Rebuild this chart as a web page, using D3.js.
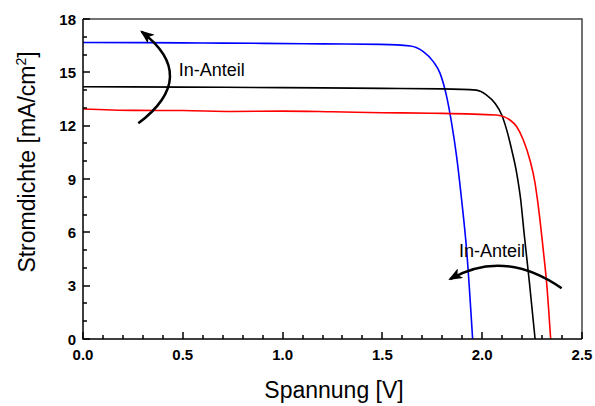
<!DOCTYPE html>
<html>
<head>
<meta charset="utf-8">
<script src="https://cdn.jsdelivr.net/npm/d3@7"></script>
<style>
  body { margin: 0; background: #fff; }
  text { font-family: "Liberation Sans", Arial, sans-serif; }
</style>
</head>
<body>
<script>
// J-V curves
const blueV = [0, 0.3, 0.6, 0.9, 1.2, 1.49, 1.64, 1.705, 1.755, 1.789, 1.822, 1.847, 1.872, 1.897, 1.922, 1.952];
const blueJ = [16.68, 16.67, 16.65, 16.63, 16.6, 16.57, 16.48, 16.16, 15.6, 14.94, 13.63, 12.13, 10.25, 7.82, 5.0, 0];
const blackV = [0, 0.5, 1.0, 1.5, 1.8, 1.97, 2.022, 2.064, 2.098, 2.123, 2.148, 2.173, 2.193, 2.21, 2.237, 2.265];
const blackJ = [14.19, 14.17, 14.14, 14.1, 14.07, 14.0, 13.72, 13.26, 12.6, 11.75, 10.63, 9.32, 7.82, 5.94, 3.13, 0];
const redV = [0, 0.25, 0.5, 0.75, 1.0, 1.25, 1.5, 1.75, 2.07, 2.139, 2.173, 2.206, 2.239, 2.265, 2.277, 2.306, 2.323, 2.343];
const redJ = [12.94, 12.86, 12.85, 12.8, 12.82, 12.78, 12.73, 12.7, 12.6, 12.32, 11.94, 11.19, 10.07, 8.76, 7.82, 5.0, 3.13, 0];

const xTicks = [0, 0.5, 1.0, 1.5, 2.0, 2.5];
const yTicks = [0, 3, 6, 9, 12, 15, 18];
const xMinor = [0.1, 0.2, 0.3, 0.4, 0.6, 0.7, 0.8, 0.9, 1.1, 1.2, 1.3, 1.4, 1.6, 1.7, 1.8, 1.9, 2.1, 2.2, 2.3, 2.4];
const yMinor = [1, 2, 4, 5, 7, 8, 10, 11, 13, 14, 16, 17];

// annotation arrows in data units: [start, control, end]
const arrow1 = [[0.277, 12.13], [0.586, 14.76], [0.294, 17.28]];
const arrow2 = [[2.398, 2.85], [2.109, 5.1], [1.839, 3.37]];
const labels = [{t: 'In-Anteil', v: 0.48, j: 14.8}, {t: 'In-Anteil', v: 1.884, j: 4.6}];

let width = 595, height = 406,
    mLeft = 83, mRight = 582, mTop = 19, mBottom = 339;

let xScale = d3.scaleLinear([0, 2.5], [mLeft, mRight]),
    yScale = d3.scaleLinear([0, 18], [mBottom, mTop]);

let svg = d3.select('body').append('svg').attr('width', width).attr('height', height);

let defs = svg.append('defs');
defs.append('marker').attr('id', 'head')
    .attr('viewBox', '0 0 14 11').attr('refX', 12).attr('refY', 5.5)
    .attr('markerWidth', 14).attr('markerHeight', 11).attr('markerUnits', 'userSpaceOnUse')
    .attr('orient', 'auto')
    .append('path').attr('d', 'M0,0 L14,5.5 L0,11 L3.5,5.5 Z').attr('fill', '#000');

defs.append('clipPath').attr('id', 'plot')
    .append('rect').attr('x', mLeft).attr('y', mTop).attr('width', mRight-mLeft).attr('height', mBottom-mTop);

// frame top/right
svg.append('path')
    .attr('d', `M${mLeft},${mTop} H${mRight} V${mBottom}`)
    .attr('fill', 'none').attr('stroke', '#444').attr('stroke-width', 1.5);

let lineGen = d3.line()
    .x(d=>xScale(d[0]))
    .y(d=>yScale(d[1]))
    .curve(d3.curveMonotoneX);

let series = [[blueV, blueJ, '#0000ff'], [blackV, blackJ, '#000000'], [redV, redJ, '#ff0000']];
svg.append('g').attr('clip-path', 'url(#plot)')
    .selectAll('path')
    .data(series)
    .join('path')
    .attr('d', d=>lineGen(d3.zip(d[0], d[1])))
    .attr('fill', 'none')
    .attr('stroke', d=>d[2])
    .attr('stroke-width', 1.6);

// inward ticks
let xTickData = xTicks.map(v=>[v, 7]).concat(xMinor.map(v=>[v, 4])),
    yTickData = yTicks.map(v=>[v, 7]).concat(yMinor.map(v=>[v, 4]));
let tickG = svg.append('g');
xTickData.forEach(d=>{
    tickG.append('line')
        .attr('x1', Math.round(xScale(d[0]))).attr('x2', Math.round(xScale(d[0])))
        .attr('y1', mBottom).attr('y2', mBottom-d[1])
        .attr('stroke', '#000').attr('stroke-width', 1.5);
});
yTickData.forEach(d=>{
    tickG.append('line')
        .attr('y1', Math.round(yScale(d[0]))).attr('y2', Math.round(yScale(d[0])))
        .attr('x1', mLeft).attr('x2', mLeft+d[1])
        .attr('stroke', '#000').attr('stroke-width', 1.5);
});

svg.append('path')
    .attr('d', `M${mLeft},${mTop} V${mBottom} H${mRight}`)
    .attr('fill', 'none').attr('stroke', '#000').attr('stroke-width', 1.5);

svg.append('g').selectAll('text').data(xTicks).join('text')
    .attr('x', d=>xScale(d)).attr('y', 360)
    .attr('text-anchor', 'middle')
    .style('font-size', '15px').style('font-weight', 'bold')
    .text(d3.format('.1f'));

svg.append('g').selectAll('text').data(yTicks).join('text')
    .attr('x', 76).attr('y', d=>yScale(d)+5.5)
    .attr('text-anchor', 'end')
    .style('font-size', '15px').style('font-weight', 'bold')
    .text(d=>d);

svg.append('text')
    .attr('x', 334).attr('y', 398).attr('text-anchor', 'middle')
    .style('font-size', '23px')
    .text('Spannung [V]');

let yTitle = svg.append('text')
    .attr('transform', 'translate(35,162) rotate(-90)')
    .attr('text-anchor', 'middle')
    .style('font-size', '23px');
yTitle.append('tspan').text('Stromdichte [mA/cm');
yTitle.append('tspan').attr('dy', -9).style('font-size', '14px').text('2');
yTitle.append('tspan').attr('dy', 9).text(']');

// annotations
let arrowGen = d=>{
    let p = d.map(q=>[xScale(q[0]), yScale(q[1])]);
    return `M${p[0]}Q${p[1]} ${p[2]}`;
};
svg.append('g').selectAll('path').data([arrow1, arrow2]).join('path')
    .attr('d', arrowGen)
    .attr('marker-end', 'url(#head)')
    .attr('fill', 'none').attr('stroke', '#000').attr('stroke-width', 2.5);

svg.append('g').selectAll('text').data(labels).join('text')
    .attr('x', d=>xScale(d.v)).attr('y', d=>yScale(d.j))
    .style('font-size', '18px')
    .text(d=>d.t);
</script>
</body>
</html>
